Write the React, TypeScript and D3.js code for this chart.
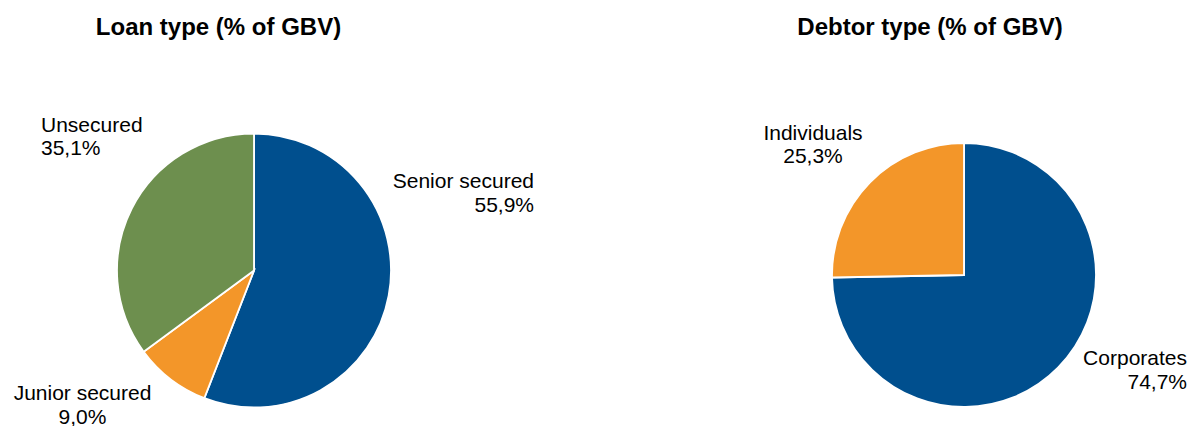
import React from "react";
import * as d3 from "d3";

const loanCategories = ["Senior secured", "Junior secured", "Unsecured"];
const loanValues = [55.9, 9.0, 35.1];
const loanLabels = ["55,9%", "9,0%", "35,1%"];
const loanColors = ["#004F8E", "#F39629", "#6D8F4E"];

const debtorCategories = ["Corporates", "Individuals"];
const debtorValues = [74.7, 25.3];
const debtorLabels = ["74,7%", "25,3%"];
const debtorColors = ["#004F8E", "#F39629"];

const titles = ["Loan type (% of GBV)", "Debtor type (% of GBV)"];

const FONT = "'Liberation Sans', Arial, sans-serif";

type LabelSpec = { x: number; y: number; anchor: "start" | "middle" | "end" };

function Pie({
  cx, cy, r, values, colors, names, pcts, labelPos,
}: {
  cx: number; cy: number; r: number; values: number[]; colors: string[];
  names: string[]; pcts: string[]; labelPos: LabelSpec[];
}) {
  const pie = d3.pie<number>().sort(null).value((d) => d);
  const arcs = pie(values);
  const arc = d3.arc<d3.PieArcDatum<number>>().innerRadius(0).outerRadius(r);
  return (
    <g>
      <g transform={`translate(${cx},${cy})`}>
        {arcs.map((a, i) => (
          <path key={i} d={arc(a) || ""} fill={colors[i]} stroke="#fff" strokeWidth={1.8} strokeLinejoin="miter" />
        ))}
      </g>
      {labelPos.map((p, i) => (
        <text key={i} x={p.x} y={p.y} textAnchor={p.anchor} fontFamily={FONT} fontSize={21} fill="#000">
          <tspan x={p.x}>{names[i]}</tspan>
          <tspan x={p.x} dy={23.5}>{pcts[i]}</tspan>
        </text>
      ))}
    </g>
  );
}

export default function App() {
  return (
    <svg width={1190} height={426} style={{ position: "absolute", left: 0, top: 0, background: "#fff" }}>
      <rect width={1190} height={426} fill="#fff" />
      <text x={218.5} y={35} textAnchor="middle" fontFamily={FONT} fontWeight="bold" fontSize={24} fill="#000">{titles[0]}</text>
      <text x={930} y={35} textAnchor="middle" fontFamily={FONT} fontWeight="bold" fontSize={24} fill="#000">{titles[1]}</text>
      <Pie
        cx={254} cy={270.5} r={137}
        values={loanValues} colors={loanColors} names={loanCategories} pcts={loanLabels}
        labelPos={[
          { x: 534, y: 188, anchor: "end" },
          { x: 82.5, y: 400, anchor: "middle" },
          { x: 41, y: 131.5, anchor: "start" },
        ]}
      />
      <Pie
        cx={964} cy={275} r={132}
        values={debtorValues} colors={debtorColors} names={debtorCategories} pcts={debtorLabels}
        labelPos={[
          { x: 1187, y: 365, anchor: "end" },
          { x: 813, y: 139.5, anchor: "middle" },
        ]}
      />
    </svg>
  );
}
